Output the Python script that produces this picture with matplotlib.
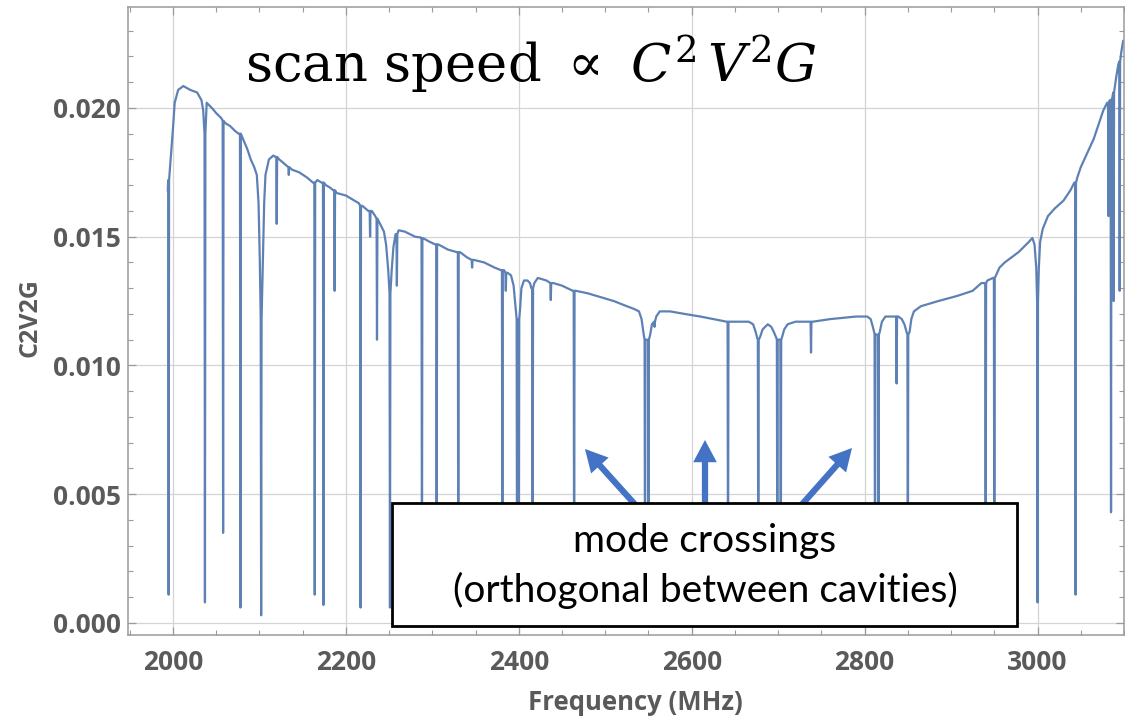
import matplotlib.pyplot as plt
import numpy as np
from matplotlib.patches import Rectangle, FancyArrowPatch
from matplotlib.ticker import MultipleLocator, FormatStrFormatter

plt.rcParams['font.family'] = ['Open Sans', 'DejaVu Sans']
plt.rcParams['mathtext.fontset'] = 'dejavuserif'

# smooth part of the C2V2G curve (frequency in MHz)
env_freq = [1994, 1998, 2000, 2002, 2006, 2012, 2020, 2028, 2033, 2035,
            2039, 2045, 2050, 2056, 2061, 2066, 2072, 2076, 2081, 2086,
            2090, 2094, 2097, 2099, 2100.5, 2104, 2105.5, 2107, 2111, 2116,
            2118.5, 2123, 2130, 2138, 2146, 2155, 2162, 2167, 2172, 2177,
            2182, 2185.5, 2189, 2200, 2210, 2215, 2219, 2226, 2230, 2234,
            2238, 2241, 2244, 2246.5, 2249, 2253, 2255, 2257.5, 2261, 2268,
            2280, 2286.5, 2290, 2297, 2303.5, 2307, 2318, 2328.5, 2332, 2340,
            2348, 2360, 2372, 2379.5, 2383, 2387, 2391, 2394, 2396.5, 2401.5,
            2403, 2406, 2410, 2413, 2414.5, 2418, 2422, 2432, 2440, 2450,
            2462.5, 2466, 2480, 2494, 2510, 2525, 2533, 2539, 2542, 2544.5,
            2552, 2554, 2559, 2563, 2575, 2592, 2610, 2625, 2640.5, 2644,
            2655, 2666, 2671, 2674, 2675.5, 2679, 2682, 2688, 2692, 2695,
            2697.5, 2704.5, 2707, 2711, 2720, 2736.5, 2740, 2760, 2790, 2803,
            2807, 2809.5, 2811, 2817.5, 2820, 2824, 2832, 2835.5, 2839, 2843,
            2846, 2848.5, 2852, 2854, 2857, 2865, 2885, 2907, 2925, 2935,
            2938.5, 2942, 2948.5, 2952, 2956, 2962, 2978, 2990, 2994, 2996.5,
            2998.5, 3001.5, 3003, 3006, 3012, 3020, 3030, 3038, 3042.5, 3046,
            3050, 3065, 3076, 3080.5, 3083.5, 3086.5, 3091, 3093.5, 3097, 3099]
env_val = [0.0168, 0.0183, 0.0192, 0.0202, 0.0207, 0.02085, 0.0207, 0.0206, 0.0203, 0.0199,
           0.0202, 0.0200, 0.0198, 0.0196, 0.0194, 0.0193, 0.0191, 0.0190, 0.0188, 0.0184,
           0.0180, 0.0177, 0.0174, 0.0163, 0.0140, 0.0140, 0.0163, 0.0174, 0.0180, 0.01815,
           0.0181, 0.0180, 0.0178, 0.0176, 0.0175, 0.0173, 0.0171, 0.0172, 0.0171, 0.0170,
           0.0169, 0.0168, 0.0167, 0.0166, 0.0164, 0.0163, 0.0162, 0.0160, 0.0160, 0.0158,
           0.0156, 0.0154, 0.0152, 0.0147, 0.0137, 0.0137, 0.0146, 0.0151, 0.01525, 0.0152,
           0.0150, 0.01497, 0.01493, 0.0148, 0.0147, 0.0147, 0.0145, 0.0144, 0.0144, 0.0142,
           0.0141, 0.0140, 0.0138, 0.0137, 0.0137, 0.0136, 0.0135, 0.0131, 0.0122, 0.0122,
           0.0130, 0.0133, 0.0133, 0.0132, 0.0130, 0.0132, 0.0134, 0.0133, 0.0132, 0.0131,
           0.0129, 0.0129, 0.0128, 0.01266, 0.0125, 0.0123, 0.0122, 0.0121, 0.0118, 0.0112,
           0.0112, 0.0116, 0.0119, 0.0121, 0.0121, 0.0120, 0.0119, 0.0118, 0.0117, 0.0117,
           0.0117, 0.0117, 0.0116, 0.0113, 0.0111, 0.0111, 0.0114, 0.0116, 0.0115, 0.0113,
           0.0111, 0.0111, 0.0114, 0.0116, 0.0117, 0.0117, 0.0117, 0.0118, 0.0119, 0.0119,
           0.0118, 0.0115, 0.0113, 0.0113, 0.0117, 0.0119, 0.0119, 0.0119, 0.0119, 0.0118,
           0.0116, 0.0113, 0.0113, 0.0118, 0.0121, 0.0123, 0.0125, 0.0127, 0.0129, 0.0132,
           0.0132, 0.0133, 0.0134, 0.0135, 0.0138, 0.0140, 0.0144, 0.0148, 0.01495, 0.0147,
           0.0138, 0.0138, 0.0148, 0.0153, 0.0158, 0.0161, 0.0164, 0.0168, 0.0171, 0.0173,
           0.0177, 0.0188, 0.0199, 0.0202, 0.0203, 0.0204, 0.0212, 0.0217, 0.0222, 0.0226]

# narrow dips (mode crossings): position, level just around the dip, bottom
dip_freq = [1995, 2037, 2058, 2078, 2102, 2120, 2134, 2164, 2174, 2187,
            2217, 2228, 2236, 2251, 2259, 2288, 2305, 2330, 2346, 2381,
            2385, 2398, 2400, 2416, 2437, 2464, 2546, 2550, 2557, 2642,
            2677, 2699, 2703, 2738, 2812, 2816, 2837, 2850, 2940, 2950,
            3000, 3044, 3082, 3085, 3088, 3095]
dip_top = [0.0172, 0.0190, 0.0195, 0.0190, 0.0118, 0.0181, 0.0177, 0.0171, 0.0171, 0.0168,
           0.0162, 0.0160, 0.0157, 0.0128, 0.0151, 0.01495, 0.0147, 0.0144, 0.0141, 0.0137,
           0.0136, 0.0118, 0.0118, 0.0130, 0.0132, 0.0129, 0.0110, 0.0110, 0.0117, 0.0117,
           0.0110, 0.0110, 0.0110, 0.0117, 0.0112, 0.0112, 0.0119, 0.0112, 0.0132, 0.0134,
           0.0125, 0.0171, 0.0202, 0.0203, 0.0206, 0.0218]
dip_min = [0.0011, 0.0008, 0.0035, 0.0006, 0.0003, 0.0155, 0.0174, 0.0011, 0.0007, 0.0129,
           0.0006, 0.0150, 0.0110, 0.0006, 0.0131, 0.0008, 0.0008, 0.0008, 0.0138, 0.0008,
           0.0129, 0.0008, 0.0008, 0.0008, 0.01254, 0.0008, 0.0008, 0.0008, 0.0115, 0.0008,
           0.0008, 0.0008, 0.0008, 0.0105, 0.0008, 0.0008, 0.0093, 0.0008, 0.0008, 0.0008,
           0.0008, 0.0011, 0.0158, 0.0043, 0.0125, 0.0129]

y_ticks = [0.000, 0.005, 0.010, 0.015, 0.020]
x_ticks = [2000, 2200, 2400, 2600, 2800, 3000]

# merge the smooth part and the dips into one trace
pts_f = list(env_freq)
pts_v = list(env_val)
for f, top, low in zip(dip_freq, dip_top, dip_min):
    pts_f += [f - 0.5, f, f + 0.5]
    pts_v += [top, low, top]
order = np.argsort(pts_f, kind='stable')
freq = np.array(pts_f)[order]
c2v2g = np.array(pts_v)[order]

fig = plt.figure(figsize=(11.25, 7.2), dpi=100)
ax = fig.add_axes([128 / 1125, 85 / 720, 996 / 1125, 628 / 720])

ax.plot(freq, c2v2g, color='#5e81b5', lw=1.6, zorder=2)
ax.set_xlim(1948, 3100)
ax.set_ylim(-0.000466, 0.02392)

ax.set_xticks(x_ticks)
ax.set_yticks(y_ticks)
ax.xaxis.set_minor_locator(MultipleLocator(50))
ax.yaxis.set_minor_locator(MultipleLocator(0.001))
ax.yaxis.set_major_formatter(FormatStrFormatter('%.3f'))
ax.grid(True, which='major', color='#d4d4d4', lw=0.9, zorder=0)
ax.tick_params(which='both', direction='in', top=True, right=True, color='#9a9a9a')
ax.tick_params(which='major', length=6, width=0.9)
ax.tick_params(which='minor', length=3.5, width=0.8)
ax.tick_params(axis='y', pad=5, labelsize=19, labelcolor='#5a5a5a')
ax.tick_params(axis='x', pad=10, labelsize=19, labelcolor='#5a5a5a')
for lab in ax.get_xticklabels() + ax.get_yticklabels():
    lab.set_fontweight('bold')
for sp in ax.spines.values():
    sp.set_color('#9a9a9a')
    sp.set_linewidth(1.1)

fig.text(30 / 1125, 1 - 318 / 720, 'C2V2G', rotation=90, ha='center', va='center',
         fontsize=18, fontweight='bold', color='#5a5a5a')
fig.text(635 / 1125, 1 - 703 / 720, 'Frequency (MHz)', ha='center', va='center',
         fontsize=18.5, fontweight='bold', color='#5a5a5a')

# headline
fig.text(245 / 1125, 1 - 82 / 720, r'scan speed $\propto$ $C^{2}\,V^{2}G$',
         ha='left', va='baseline', fontsize=38, family='DejaVu Serif', color='black')

# annotation box with arrows
box = Rectangle((0.2651, 0.0143), 0.8926 - 0.2651, 0.2102 - 0.0143, transform=ax.transAxes,
                facecolor='white', edgecolor='black', lw=2, zorder=5)
ax.add_patch(box)
fig.text(705 / 1125, 1 - 552 / 720, 'mode crossings', ha='center', va='baseline',
         fontsize=28, family='Lato', color='black', zorder=6)
fig.text(705 / 1125, 1 - 602 / 720, '(orthogonal between cavities)', ha='center',
         va='baseline', fontsize=28, family='Lato', color='black', zorder=6)

arrows = [((640, 720 - 510), (585, 720 - 449)),
          ((705, 720 - 510), (705, 720 - 440)),
          ((797, 720 - 510), (852, 720 - 448))]
for tail, tip in arrows:
    arr = FancyArrowPatch(tail, tip, transform=None, mutation_scale=1,
                          arrowstyle='simple,head_length=16,head_width=17,tail_width=4.5',
                          color='#4472c4', lw=0, zorder=4, shrinkA=0, shrinkB=0)
    ax.add_artist(arr)

fig.savefig('out.png', dpi=100)
